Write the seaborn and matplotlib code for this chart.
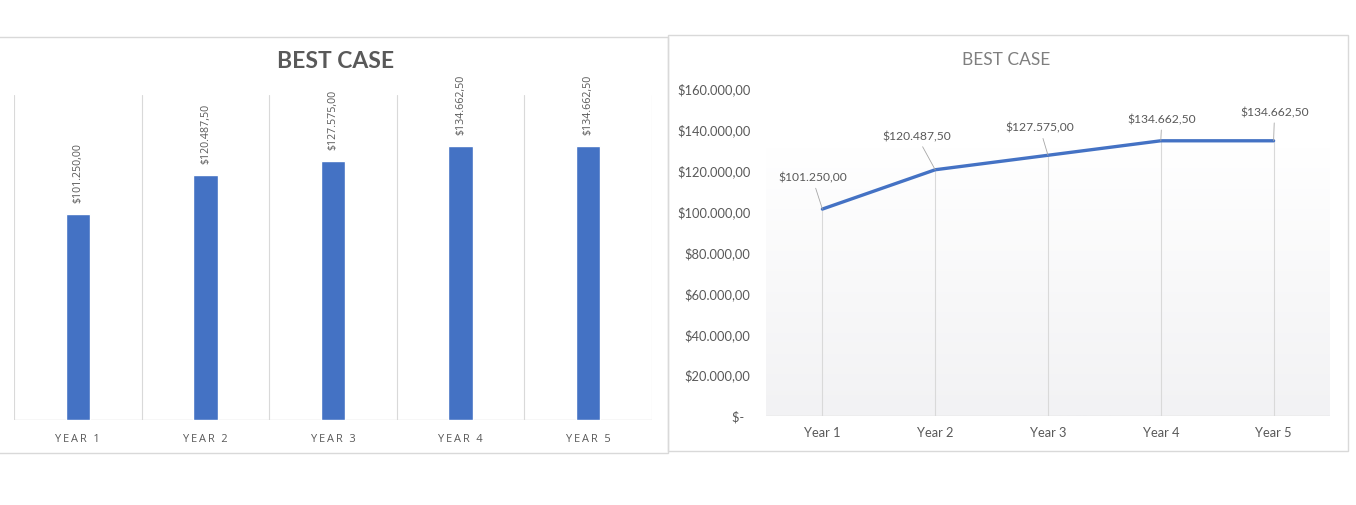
import numpy as np
import pandas as pd
import matplotlib
matplotlib.use("Agg")
import matplotlib.pyplot as plt
from matplotlib.patches import Rectangle
from matplotlib.colors import LinearSegmentedColormap
import seaborn as sns

# ---- data ----
title = "BEST CASE"
bar_categories = ["YEAR 1", "YEAR 2", "YEAR 3", "YEAR 4", "YEAR 5"]
line_categories = ["Year 1", "Year 2", "Year 3", "Year 4", "Year 5"]
values = [101250.00, 120487.50, 127575.00, 134662.50, 134662.50]
y_ticks = [0, 20000, 40000, 60000, 80000, 100000, 120000, 140000, 160000]

BLUE = "#4472C4"
GREY_TXT = "#595959"
GRID = "#d9d9d9"


def money(v):
    if v == 0:
        return "$-  "
    s = f"{v:,.2f}"
    s = s.replace(",", "X").replace(".", ",").replace("X", ".")
    return "$" + s


sns.set_theme(style="white")
plt.rcParams["font.family"] = ["Lato", "DejaVu Sans"]

W, H = 1356, 505
fig = plt.figure(figsize=(W / 100, H / 100), dpi=100)
fig.patch.set_facecolor("white")


def fig_rect(x0, y0, x1, y1, **kw):
    return Rectangle((x0 / W, 1 - y1 / H), (x1 - x0) / W, (y1 - y0) / H,
                     transform=fig.transFigure, **kw)


# panel borders
fig.add_artist(fig_rect(-3, 37, 668, 453, fill=False, edgecolor=GRID, lw=1.0))
fig.add_artist(fig_rect(668, 35, 1348, 451, fill=False, edgecolor=GRID, lw=1.0))

# ---------------- left: bar chart ----------------
ax1 = fig.add_axes([14 / W, 1 - 420 / H, (652 - 14) / W, (420 - 95) / H])
df1 = pd.DataFrame({"cat": bar_categories, "val": values})
sns.barplot(data=df1, x="cat", y="val", color=BLUE, saturation=1,
            width=0.19, ax=ax1, zorder=3)
ax1.set_xlim(-0.5, len(bar_categories) - 0.5)
ax1.set_ylim(0, 160000)
for s in ax1.spines.values():
    s.set_visible(False)
for b in np.arange(-0.5, len(bar_categories), 1.0):
    ax1.axvline(b, color=GRID, lw=0.8, zorder=1)
ax1.axhline(0, color=GRID, lw=1.0, zorder=2)
ax1.set_yticks([])
ax1.set_xlabel("")
ax1.set_ylabel("")
spaced = ["\u2009".join(list(c)) for c in bar_categories]
ax1.set_xticks(range(len(bar_categories)))
ax1.set_xticklabels(spaced, fontsize=7.9, color=GREY_TXT,
                    family=["Open Sans", "DejaVu Sans"])
ax1.tick_params(axis="x", length=0, pad=10)
for i, v in enumerate(values):
    ax1.annotate(money(v), xy=(i, v), xytext=(0, 8), textcoords="offset points",
                 rotation=90, ha="center", va="bottom", fontsize=7.7,
                 color=GREY_TXT, family=["Open Sans", "DejaVu Sans"])
fig.text(336 / W, 1 - 61 / H, title, ha="center", va="center",
         fontsize=16.5, fontweight="bold", color=GREY_TXT)

# ---------------- right: line chart ----------------
ax2 = fig.add_axes([766 / W, 1 - 416 / H, (1330 - 766) / W, (416 - 89) / H])
ax2.set_facecolor("none")
grad_top = 131600
cmap = LinearSegmentedColormap.from_list("g", ["#f2f2f4", "#ffffff"])
ax2.imshow(np.linspace(0, 1, 256).reshape(-1, 1), extent=[-0.5, 4.5, 0, grad_top],
           origin="lower", aspect="auto", cmap=cmap, zorder=0)
for i, v in enumerate(values):
    ax2.plot([i, i], [0, v], color=GRID, lw=0.8, zorder=1)
df2 = pd.DataFrame({"x": np.arange(len(line_categories)), "val": values})
sns.lineplot(data=df2, x="x", y="val", color=BLUE, lw=2.4, ax=ax2, zorder=3)
ax2.set_xlim(-0.5, len(line_categories) - 0.5)
ax2.set_ylim(0, 160000)
for s in ax2.spines.values():
    s.set_visible(False)
ax2.axhline(0, color=GRID, lw=1.0, zorder=2)
ax2.set_xticks(range(len(line_categories)))
ax2.set_xticklabels(line_categories, fontsize=9.3, color=GREY_TXT)
ax2.set_yticks(y_ticks)
ax2.set_yticklabels([money(t) for t in y_ticks], fontsize=9.3, color=GREY_TXT)
ax2.tick_params(axis="x", length=0, pad=8)
ax2.tick_params(axis="y", length=0, pad=11)
ax2.set_xlabel("")
ax2.set_ylabel("")
label_offsets = [(-7.2, 22.3), (-13.0, 23.8), (-5.8, 19.4), (0.7, 15.1), (0.7, 20.2)]
for i, v in enumerate(values):
    ax2.annotate(money(v), xy=(i, v), xytext=label_offsets[i],
                 textcoords="offset points", ha="center", va="center",
                 fontsize=8.7, color=GREY_TXT,
                 arrowprops=dict(arrowstyle="-", color="#a6a6a6", lw=0.6,
                                 shrinkA=1, shrinkB=0))
fig.text(1006 / W, 1 - 60 / H, title, ha="center", va="center",
         fontsize=12.5, color="#7f7f7f")

fig.savefig("out.png", dpi=100, facecolor="white")
